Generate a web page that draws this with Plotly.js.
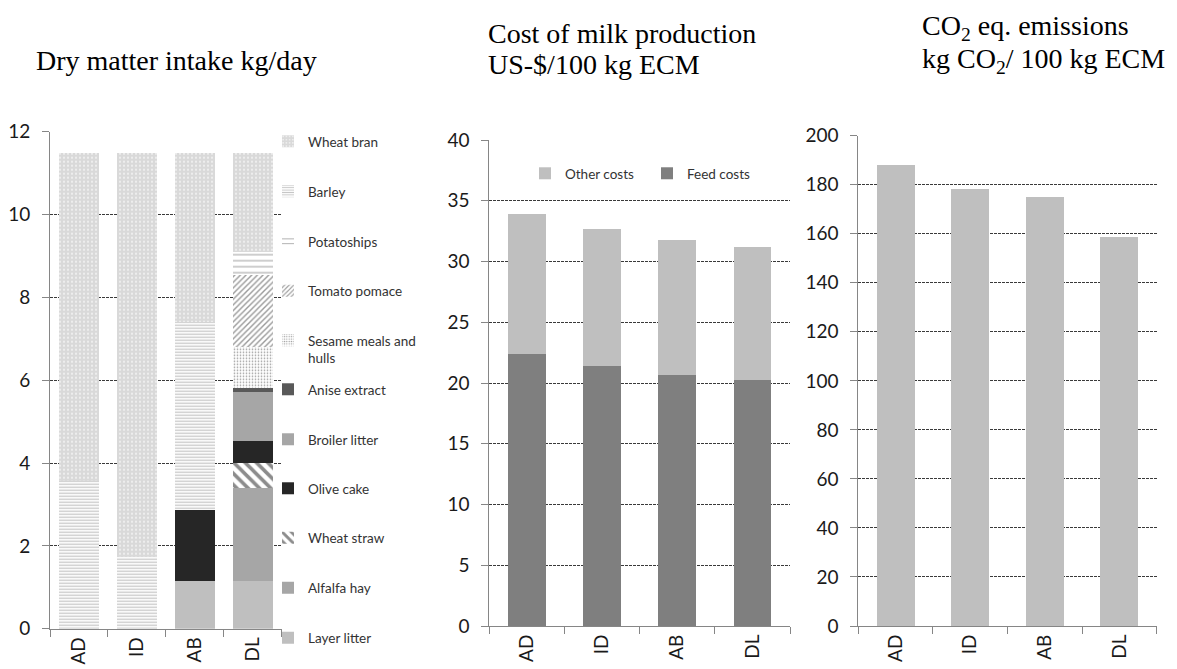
<!DOCTYPE html>
<html>
<head>
<meta charset="utf-8">
<script src="https://cdn.plot.ly/plotly-3.0.1.min.js"></script>
<style>html,body{margin:0;padding:0;background:#fff}#chart{width:1177px;height:669px}</style>
</head>
<body>
<div id="chart"></div>
<script>
// ---------- data ----------
const categories = ['AD', 'ID', 'AB', 'DL'];

// Dry matter intake kg/day (stack bottom -> top)
const layerLitter   = [0, 0, 1.15, 1.15];
const alfalfaHay    = [0, 0, 0, 2.25];
const wheatStraw    = [0, 0, 0, 0.59];
const oliveCake     = [0, 0, 1.72, 0.54];
const broilerLitter = [0, 0, 0, 1.18];
const aniseExtract  = [0, 0, 0, 0.09];
const sesameMeals   = [0, 0, 0, 1.01];
const tomatoPomace  = [0, 0, 0, 1.73];
const potatoships   = [0, 0, 0, 0.56];
const barley        = [3.57, 1.74, 4.54, 0];
const wheatBran     = [7.92, 9.75, 4.08, 2.39];

// Cost of milk production US-$/100 kg ECM
const feedCosts  = [22.39, 21.37, 20.66, 20.22];
const otherCosts = [11.49, 11.28, 11.11, 10.95];

// CO2 eq. emissions kg CO2 / 100 kg ECM
const co2Emissions = [187.9, 178.1, 174.9, 158.6];

// ---------- helpers ----------
const W = 1177, H = 669;
const px = v => v / W;
const py = v => (H - v) / H;
const tickFont = {family: 'Lato, "Open Sans", sans-serif', size: 19, color: '#1a1a1a'};
const legFont = {family: 'Lato, "Open Sans", sans-serif', size: 13.5, color: '#333'};

function dmiTrace(name, vals, style, legendId) {
  const marker = {color: style.color, line: {width: 0}};
  if (style.pattern) {
    marker.pattern = Object.assign({fillmode: 'replace'}, style.pattern);
  }
  return {type: 'bar', x: categories, y: vals, name: name, marker: marker,
          width: 0.69, xaxis: 'x', yaxis: 'y', legend: legendId, hoverinfo: 'name+y'};
}

const dmiSeries = [
  ['Layer litter', layerLitter, {color: '#bfbfbf'}, 638],
  ['Alfalfa hay', alfalfaHay, {color: '#a6a6a6'}, 588],
  ['Wheat straw', wheatStraw, {color: '#ffffff', pattern: {shape: '\\', bgcolor: '#ffffff', fgcolor: '#8c8c8c', size: 8, solidity: 0.45}}, 538],
  ['Olive cake', oliveCake, {color: '#262626'}, 488.5],
  ['Broiler litter', broilerLitter, {color: '#a6a6a6'}, 439.5],
  ['Anise extract', aniseExtract, {color: '#595959'}, 389.5],
  ['Sesame meals and<br>hulls', sesameMeals, {color: '#ffffff', pattern: {shape: '.', bgcolor: '#ffffff', fgcolor: '#9a9a9a', size: 3, solidity: 0.25}}, 349.5],
  ['Tomato pomace', tomatoPomace, {color: '#ffffff', pattern: {shape: '/', bgcolor: '#ffffff', fgcolor: '#9a9a9a', size: 4, solidity: 0.35}}, 291],
  ['Potatoships', potatoships, {color: '#ffffff', pattern: {shape: '-', bgcolor: '#ffffff', fgcolor: '#a0a0a0', size: 6, solidity: 0.17}}, 241.5],
  ['Barley', barley, {color: '#ffffff', pattern: {shape: '-', bgcolor: '#ffffff', fgcolor: '#c4c4c4', size: 3, solidity: 0.4}}, 191.5],
  ['Wheat bran', wheatBran, {color: '#d9d9d9', pattern: {shape: '.', bgcolor: '#d9d9d9', fgcolor: '#f4f4f4', size: 4, solidity: 0.2}}, 141.5]
];

const data = [];
const layout = {
  width: W, height: H,
  margin: {l: 0, r: 0, t: 0, b: 0},
  paper_bgcolor: '#fff', plot_bgcolor: '#fff',
  barmode: 'stack',
  font: {family: 'Lato, sans-serif'},
  annotations: []
};

const LEG_X = 268;
dmiSeries.forEach((s, i) => {
  const id = i === 0 ? 'legend' : 'legend' + (i + 1);
  data.push(dmiTrace(s[0], s[1], s[2], id));
  layout[id] = {x: px(LEG_X), xanchor: 'left', y: py(s[3]), yanchor: 'middle',
                bgcolor: 'rgba(0,0,0,0)', font: legFont, borderwidth: 0,
                valign: 'top', itemclick: false, itemdoubleclick: false};
});

// chart 2
data.push({type: 'bar', x: categories, y: feedCosts, name: 'Feed costs',
  marker: {color: '#7f7f7f', line: {width: 0}}, width: 0.5,
  xaxis: 'x2', yaxis: 'y2', legend: 'legend13'});
data.push({type: 'bar', x: categories, y: otherCosts, name: 'Other costs',
  marker: {color: '#bfbfbf', line: {width: 0}}, width: 0.5,
  xaxis: 'x2', yaxis: 'y2', legend: 'legend12'});
layout.legend12 = {x: px(525), xanchor: 'left', y: py(173.5), yanchor: 'middle',
  bgcolor: 'rgba(0,0,0,0)', font: legFont};
layout.legend13 = {x: px(647), xanchor: 'left', y: py(173.5), yanchor: 'middle',
  bgcolor: 'rgba(0,0,0,0)', font: legFont};

// chart 3
data.push({type: 'bar', x: categories, y: co2Emissions, name: 'CO2 eq. emissions',
  marker: {color: '#bfbfbf', line: {width: 0}}, width: 0.51,
  xaxis: 'x3', yaxis: 'y3', showlegend: false});

function xAx(d0, d1, anchor) {
  return {domain: [px(d0), px(d1)], anchor: anchor, type: 'category',
    showline: true, linecolor: '#868686', linewidth: 1,
    ticks: 'outside', tickson: 'boundaries', ticklen: 7, tickcolor: '#868686',
    tickangle: -90, tickfont: tickFont, showgrid: false, fixedrange: true};
}
function yAx(top, bottom, range, dtick, anchor) {
  return {domain: [py(bottom), py(top)], anchor: anchor, range: range, dtick: dtick,
    showline: true, linecolor: '#868686', linewidth: 1,
    ticks: 'outside', ticklen: 7, tickcolor: '#868686', ticklabelstandoff: 8,
    showgrid: true, gridcolor: '#3a3a3a', gridwidth: 1, griddash: '3px,1px',
    zeroline: false, tickfont: tickFont, fixedrange: true};
}
layout.xaxis  = xAx(50, 281.7, 'y');
layout.yaxis  = yAx(131.7, 628.7, [0, 12], 2, 'x');
layout.xaxis2 = xAx(489.3, 790, 'y2');
layout.yaxis2 = yAx(140, 626, [0, 40], 5, 'x2');
layout.xaxis3 = xAx(858.3, 1156.7, 'y3');
layout.yaxis3 = yAx(135.7, 626, [0, 200], 20, 'x3');

// titles
const titleFont = {family: '"Liberation Serif", "Times New Roman", serif', size: 28, color: '#000'};
function title(text, x, y) {
  layout.annotations.push({text: text, xref: 'paper', yref: 'paper', x: px(x), y: py(y),
    xanchor: 'left', yanchor: 'middle', showarrow: false, font: titleFont});
}
title('Dry matter intake kg/day', 34, 60);
title('Cost of milk production', 486, 33);
title('US-$/100 kg ECM', 486, 64);
title('CO<sub>2</sub> eq. emissions', 920, 27);
title('kg CO<sub>2</sub>/ 100 kg ECM', 920, 60);

Plotly.newPlot('chart', data, layout, {staticPlot: true, displayModeBar: false});
</script>
</body>
</html>
